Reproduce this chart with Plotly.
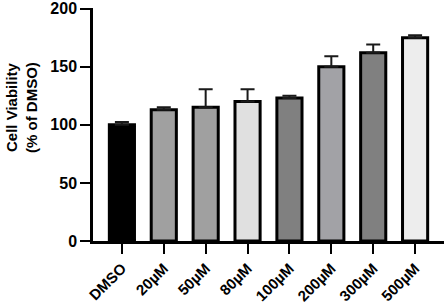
import plotly.graph_objects as go

categories = ["DMSO", "20µM", "50µM", "80µM", "100µM", "200µM", "300µM", "500µM"]
means = [100, 113, 115, 120, 123, 150, 162, 175]
err_plus = [2.5, 2, 15.5, 10.5, 2, 9, 7, 2]
colors = ["#000000", "#a0a0a0", "#a0a0a0", "#e0e0e0", "#808080", "#a2a2a6", "#808080", "#ededed"]
y_ticks = [0, 50, 100, 150, 200]

font_family = "Arial, Liberation Sans, sans-serif"

fig = go.Figure(go.Bar(
    x=categories,
    y=means,
    width=0.6,
    marker=dict(color=colors, line=dict(color="black", width=3)),
    error_y=dict(type="data", symmetric=False, array=err_plus, arrayminus=[0]*len(means),
                 color="#1a1a1a", thickness=2, width=7),
))

fig.update_layout(
    width=447, height=307,
    margin=dict(l=93, r=3, t=8, b=66, autoexpand=False),
    plot_bgcolor="white", paper_bgcolor="white",
    showlegend=False,
    font=dict(family=font_family, color="black"),
)
fig.update_xaxes(
    type="category",
    range=[-0.69, 7.69],
    tickvals=categories,
    ticktext=[f"<b>{c}</b>" for c in categories],
    showline=True, linecolor="black", linewidth=2.5,
    ticks="outside", ticklen=10, tickwidth=2, tickcolor="black",
    tickangle=-45,
    tickfont=dict(family=font_family, size=15, color="black"),
    showgrid=False, automargin=False, ticklabeloverflow="allow",
)
fig.update_yaxes(
    range=[0, 200.5],
    tickvals=y_ticks,
    ticktext=[f"<b>{v}</b>" for v in y_ticks],
    showline=True, linecolor="black", linewidth=2.5,
    ticks="outside", ticklen=10, tickwidth=2, tickcolor="black",
    tickfont=dict(family=font_family, size=16, color="black"),
    showgrid=False, zeroline=False, automargin=False, ticklabeloverflow="allow",
)
fig.add_annotation(
    text="<b>Cell Viability<br>(% of DMSO)</b>",
    xref="paper", yref="paper", x=0, y=0.571,
    xanchor="center", yanchor="middle", xshift=-71,
    textangle=-90, showarrow=False,
    font=dict(family=font_family, size=15, color="black"),
)

fig.write_html("out.html", config={"displayModeBar": False},
               post_script="document.body.style.margin='0';")
